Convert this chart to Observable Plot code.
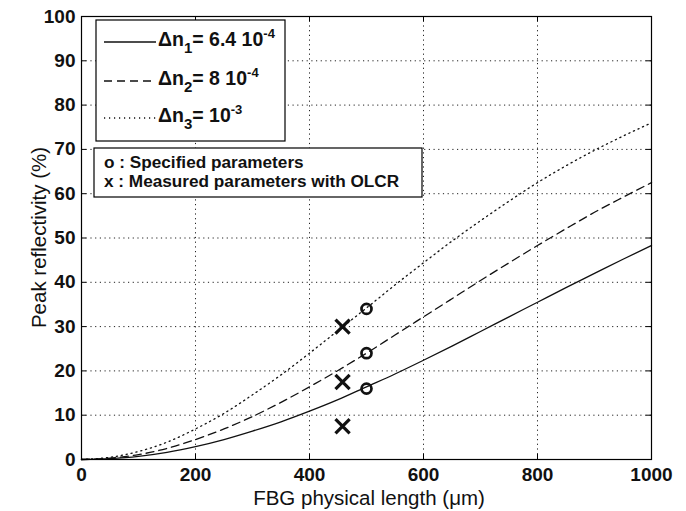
<!DOCTYPE html>
<html>
<head>
<meta charset="utf-8">
<script src="https://cdn.jsdelivr.net/npm/d3@7"></script>
<script src="https://cdn.jsdelivr.net/npm/@observablehq/plot@0.6"></script>
<style>
  html, body { margin: 0; padding: 0; background: #fff; }
  svg { display: block; }
</style>
</head>
<body>
<div id="chart"></div>
<script>
// ---- data ----
const lengths = [0, 50, 100, 150, 200, 250, 300, 350, 400, 450, 500, 550, 600, 650, 700, 750, 800, 850, 900, 950, 1000];
const refl1 = [0, 0.2, 0.7, 1.6, 2.9, 4.5, 6.4, 8.5, 10.9, 13.5, 16.4, 19.3, 22.4, 25.6, 28.9, 32.2, 35.5, 38.8, 42.0, 45.2, 48.3];
const refl2 = [0, 0.3, 1.1, 2.5, 4.5, 6.9, 9.7, 12.9, 16.4, 20.1, 24.0, 28.1, 32.2, 36.3, 40.4, 44.4, 48.3, 52.1, 55.8, 59.2, 62.5];
const refl3 = [0, 0.5, 1.8, 3.9, 6.9, 10.4, 14.6, 19.1, 24.0, 29.1, 34.2, 39.4, 44.4, 49.3, 53.9, 58.3, 62.5, 66.3, 69.8, 73.0, 76.0];
const specLength = [500, 500, 500];
const specRefl = [34, 24, 16];
const measLength = [458, 458, 458];
const measRefl = [30, 17.5, 7.5];
const xTicks = [0, 200, 400, 600, 800, 1000];
const yTicks = [0, 10, 20, 30, 40, 50, 60, 70, 80, 90, 100];
const xLabel = "FBG physical length (μm)";
const yLabel = "Peak reflectivity (%)";

const toRows = (ys) => lengths.map((x, i) => ({x, y: ys[i]}));
const spec = specLength.map((x, i) => ({x, y: specRefl[i]}));
const meas = measLength.map((x, i) => ({x, y: measRefl[i]}));

const W = 686, H = 511, mL = 81, mR = 35, mT = 16, mB = 52;
const innerH = H - mT - mB, innerW = W - mL - mR;
const font = "'Liberation Sans', Arial, Helvetica, sans-serif";
const gridDash = "1.2,3.5";

const chart = Plot.plot({
  width: W, height: H,
  marginLeft: mL, marginRight: mR, marginTop: mT, marginBottom: mB,
  style: {fontFamily: font, fontSize: "19px", fontWeight: "bold", background: "#fff", color: "#111"},
  x: {domain: [0, 1000], ticks: xTicks, tickFormat: d => String(d), tickSize: 0, tickPadding: 8, label: null},
  y: {domain: [0, 100], ticks: yTicks, tickFormat: d => String(d), tickSize: 0, tickPadding: 6, label: null},
  marks: [
    Plot.ruleX(xTicks, {x: d => d, stroke: "#222", strokeWidth: 1, strokeDasharray: gridDash}),
    Plot.ruleY(yTicks, {y: d => d, stroke: "#222", strokeWidth: 1, strokeDasharray: gridDash}),
    Plot.ruleX(xTicks, {x: d => d, insetTop: innerH - 5, stroke: "#000"}),
    Plot.ruleX(xTicks, {x: d => d, insetBottom: innerH - 5, stroke: "#000"}),
    Plot.ruleY(yTicks, {y: d => d, insetRight: innerW - 5, stroke: "#000"}),
    Plot.ruleY(yTicks, {y: d => d, insetLeft: innerW - 5, stroke: "#000"}),
    Plot.line(toRows(refl1), {x: "x", y: "y", stroke: "#111", strokeWidth: 1.3, curve: "monotone-x"}),
    Plot.line(toRows(refl2), {x: "x", y: "y", stroke: "#111", strokeWidth: 1.3, strokeDasharray: "8,5", curve: "monotone-x"}),
    Plot.line(toRows(refl3), {x: "x", y: "y", stroke: "#111", strokeWidth: 1.3, strokeDasharray: "1.2,3.8", curve: "monotone-x"}),
    Plot.dot(spec, {x: "x", y: "y", r: 5, stroke: "#111", strokeWidth: 2.7, fill: "none"}),
    Plot.dot(meas, {x: "x", y: "y", symbol: "times", r: 6.5, stroke: "#111", strokeWidth: 3.2}),
    Plot.frame({stroke: "#000", strokeWidth: 1.2})
  ]
});

document.getElementById("chart").appendChild(chart);

const svg = d3.select(chart);

// axis labels
svg.append("text")
  .attr("x", mL + innerW / 2 + 3).attr("y", 505)
  .attr("text-anchor", "middle")
  .style("font-family", font).style("font-size", "20.5px").style("font-weight", "normal").attr("fill", "#111")
  .text(xLabel);
svg.append("text")
  .attr("transform", `translate(46,${mT + innerH / 2}) rotate(-90)`)
  .attr("text-anchor", "middle")
  .style("font-family", font).style("font-size", "20.5px").style("font-weight", "normal").attr("fill", "#111")
  .text(yLabel);

// legend box 1 (line styles)
const leg = svg.append("g").style("font-family", font).style("font-weight", "bold")
  .attr("fill", "#111").attr("text-anchor", "start");
leg.append("rect").attr("x", 96).attr("y", 20).attr("width", 189).attr("height", 121)
  .attr("fill", "#fff").attr("stroke", "#000").attr("stroke-width", 1.2);
const entries = [
  {dash: null, ly: 42, sub: "1", val: "= 6.4 10", exp: "-4"},
  {dash: "8,5", ly: 81, sub: "2", val: "= 8 10", exp: "-4"},
  {dash: "1.2,3.8", ly: 118, sub: "3", val: "= 10", exp: "-3"}
];
entries.forEach(e => {
  const ln = leg.append("line").attr("x1", 104).attr("x2", 156).attr("y1", e.ly).attr("y2", e.ly)
    .attr("stroke", "#111").attr("stroke-width", 1.3);
  if (e.dash) ln.attr("stroke-dasharray", e.dash);
  const t = leg.append("text").attr("x", 158).attr("y", e.ly + 4)
    .attr("text-anchor", "start").style("font-size", "19.5px");
  t.append("tspan").text("Δn");
  t.append("tspan").attr("dy", 7).style("font-size", "15px").text(e.sub);
  t.append("tspan").attr("dy", -7).text(e.val);
  t.append("tspan").attr("dy", -8).style("font-size", "13px").text(e.exp);
});

// legend box 2 (markers)
leg.append("rect").attr("x", 94).attr("y", 148).attr("width", 328).attr("height", 49)
  .attr("fill", "#fff").attr("stroke", "#000").attr("stroke-width", 1.2);
leg.append("text").attr("x", 104).attr("y", 168).attr("text-anchor", "start")
  .style("font-size", "17.2px").text("o : Specified parameters");
leg.append("text").attr("x", 104).attr("y", 187).attr("text-anchor", "start")
  .style("font-size", "17.2px").text("x : Measured parameters with OLCR");
</script>
</body>
</html>
